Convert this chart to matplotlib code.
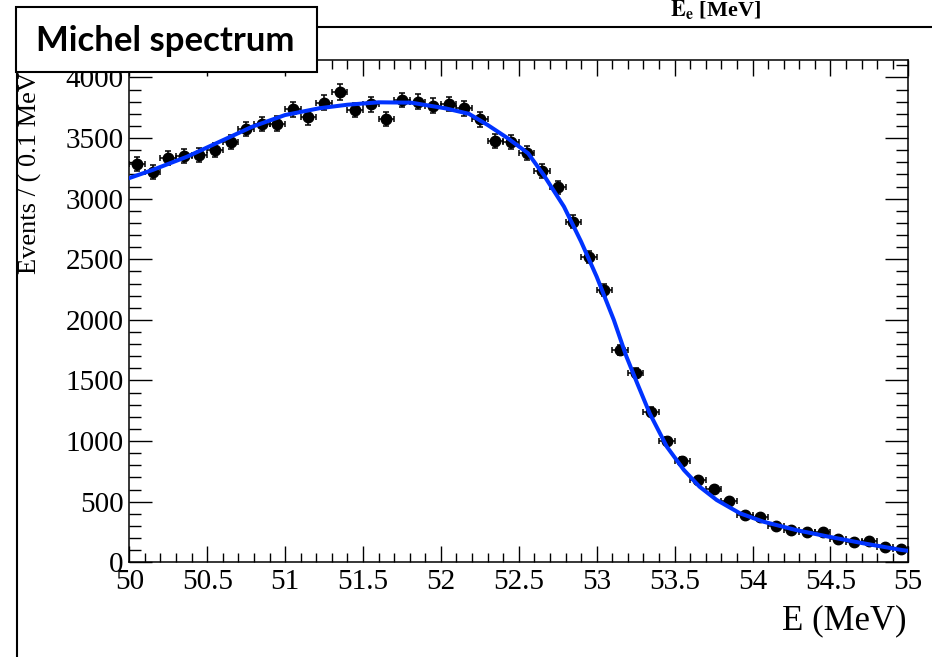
import numpy as np
import matplotlib
matplotlib.use("Agg")
import matplotlib.pyplot as plt
from matplotlib.ticker import MultipleLocator
from matplotlib.patches import Rectangle
from matplotlib.lines import Line2D

plt.rcParams['font.family'] = ['Liberation Serif', 'DejaVu Serif']
plt.rcParams['mathtext.fontset'] = 'stix'

# ---------------- data ----------------
bin_lo = 50.0
bin_width = 0.1
counts = [3283, 3220, 3338, 3352, 3358, 3404, 3465, 3573, 3616, 3620,
          3737, 3671, 3792, 3880, 3731, 3778, 3657, 3814, 3800, 3767,
          3781, 3745, 3655, 3478, 3465, 3379, 3228, 3094, 2810, 2521,
          2246, 1750, 1564, 1243, 1001, 836, 679, 602, 506, 390,
          371, 302, 266, 247, 253, 190, 165, 176, 124, 110]

# fitted curve
fit_e = [50.0, 50.15, 50.37, 50.58, 50.79, 51.0, 51.22, 51.4, 51.6, 51.81,
         52.03, 52.18, 52.3, 52.43, 52.56, 52.66, 52.79, 52.9, 53.0, 53.11,
         53.19, 53.26, 53.34, 53.45, 53.56, 53.66, 53.77, 53.92, 54.07, 54.28,
         54.49, 54.71, 54.96, 55.0]
fit_n = [3170, 3237, 3346, 3470, 3594, 3690, 3746, 3775, 3795, 3792,
         3745, 3700, 3608, 3498, 3374, 3195, 2934, 2645, 2356, 1999,
         1700, 1477, 1229, 954, 761, 624, 514, 404, 335, 266,
         211, 157, 101, 95]

counts = np.array(counts, dtype=float)
centers = bin_lo + bin_width * (np.arange(len(counts)) + 0.5)

# ---------------- figure ----------------
W, H = 932, 657
fig = plt.figure(figsize=(W / 100, H / 100), dpi=100)
ax = fig.add_axes([129.3 / W, 1 - 562.3 / H, 779 / W, 502.3 / H])

ax.errorbar(centers, counts, xerr=bin_width / 2, yerr=np.sqrt(counts),
            fmt='o', color='black', ms=7.5, elinewidth=1.1,
            capsize=2.5, capthick=1.1, zorder=2)
ax.plot(fit_e, fit_n, color='#0033ff', lw=2.9, zorder=3)

ax.set_xlim(50, 55)
ax.set_ylim(0, 4144)
ax.xaxis.set_major_locator(MultipleLocator(0.5))
ax.xaxis.set_minor_locator(MultipleLocator(0.1))
ax.yaxis.set_major_locator(MultipleLocator(500))
ax.yaxis.set_minor_locator(MultipleLocator(100))
ax.xaxis.set_major_formatter(plt.FuncFormatter(lambda v, p: f"{v:g}"))

ax.tick_params(which='both', direction='in', top=True, right=True,
               width=1.0, labelsize=21, colors='black')
ax.tick_params(axis='x', which='major', length=11.5, pad=5)
ax.tick_params(axis='x', which='minor', length=6.5)
ax.tick_params(axis='y', which='major', length=16.5, pad=4)
ax.tick_params(axis='y', which='minor', length=8.6)
for s in ax.spines.values():
    s.set_linewidth(1.1)

# axis titles, ROOT style (right/top aligned)
fig.text(907 / W, 1 - 621 / H, "E (MeV)", fontsize=25, ha='right', va='center')
fig.text(30 / W, 1 - 57 / H, "Events / ( 0.1 MeV )", fontsize=19,
         rotation=90, ha='center', va='top')

# bits of the slide around the plot
fig.text(715 / W, 1 - 10 / H, r"$\mathbf{E_e}$ [MeV]", fontsize=16,
         fontweight='bold', ha='center', va='center')
fig.add_artist(Line2D([317 / W, 1.0], [1 - 27 / H, 1 - 27 / H],
                      color='black', lw=1.5, transform=fig.transFigure))
fig.add_artist(Line2D([17 / W, 17 / W], [0.0, 1 - 72 / H],
                      color='black', lw=1.5, transform=fig.transFigure))
box = Rectangle((16 / W, 1 - 72 / H), 301 / W, 65 / H, transform=fig.transFigure,
                facecolor='white', edgecolor='black', lw=1.5, zorder=10)
fig.add_artist(box)
fig.text(165 / W, 1 - 41 / H, "Michel spectrum", family='Lato', fontweight='bold',
         fontsize=25, ha='center', va='center', zorder=11)

fig.savefig("out.png", dpi=100)
